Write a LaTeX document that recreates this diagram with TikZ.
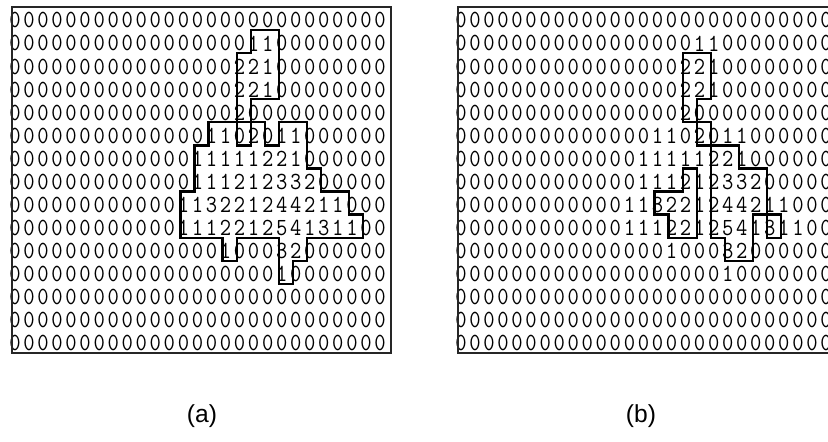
\documentclass[tikz,border=0pt]{standalone}
\usepackage{fontspec}
\setmainfont{Liberation Sans}
\usepackage{tikz}

% cluster counts, one list per row (27 columns, 15 rows)
\newcommand{\countrows}{%
  {0,0,0,0,0,0,0,0,0,0, 0,0,0,0,0,0,0,0,0,0, 0,0,0,0,0,0,0},
  {0,0,0,0,0,0,0,0,0,0, 0,0,0,0,0,0,0,1,1,0, 0,0,0,0,0,0,0},
  {0,0,0,0,0,0,0,0,0,0, 0,0,0,0,0,0,2,2,1,0, 0,0,0,0,0,0,0},
  {0,0,0,0,0,0,0,0,0,0, 0,0,0,0,0,0,2,2,1,0, 0,0,0,0,0,0,0},
  {0,0,0,0,0,0,0,0,0,0, 0,0,0,0,0,0,2,0,0,0, 0,0,0,0,0,0,0},
  {0,0,0,0,0,0,0,0,0,0, 0,0,0,0,1,1,0,2,0,1, 1,0,0,0,0,0,0},
  {0,0,0,0,0,0,0,0,0,0, 0,0,0,1,1,1,1,1,2,2, 1,0,0,0,0,0,0},
  {0,0,0,0,0,0,0,0,0,0, 0,0,0,1,1,1,2,1,2,3, 3,2,0,0,0,0,0},
  {0,0,0,0,0,0,0,0,0,0, 0,0,1,1,3,2,2,1,2,4, 4,2,1,1,0,0,0},
  {0,0,0,0,0,0,0,0,0,0, 0,0,1,1,1,2,2,1,2,5, 4,1,3,1,1,0,0},
  {0,0,0,0,0,0,0,0,0,0, 0,0,0,0,0,1,0,0,0,3, 2,0,0,0,0,0,0},
  {0,0,0,0,0,0,0,0,0,0, 0,0,0,0,0,0,0,0,0,1, 0,0,0,0,0,0,0},
  {0,0,0,0,0,0,0,0,0,0, 0,0,0,0,0,0,0,0,0,0, 0,0,0,0,0,0,0},
  {0,0,0,0,0,0,0,0,0,0, 0,0,0,0,0,0,0,0,0,0, 0,0,0,0,0,0,0},
  {0,0,0,0,0,0,0,0,0,0, 0,0,0,0,0,0,0,0,0,0, 0,0,0,0,0,0,0}}

\begin{document}
\begin{tikzpicture}[
    panel/.style={shift={(#1,-0.14cm)}, x=0.2808cm, y=-0.4614cm},
    digit/.style={font=\ttfamily\fontsize{12.5}{12.5}\selectfont, text=black, inner sep=0pt,
      yscale=1.12, transform shape},
    frame/.style={draw=black!85, line width=1pt},
    region/.style={draw=black, line width=1.3pt},
    caption/.style={font=\fontsize{14}{14}\selectfont}
]
\clip (0,0) rectangle (16.56,-8.84);

% both panels show the same counts
\foreach \p/\xo in {a/0.24cm, b/9.16cm} {
  \begin{scope}[panel=\xo]
    \foreach \rowlist [count=\r from 0] in \countrows {
      \foreach \d [count=\c from 0] in \rowlist {
        \node[digit] (\p-\r-\c) at (\c+0.21, \r+0.58) {\d};
      }
    }
    \draw[frame] (0,0) rectangle (27,15);
  \end{scope}
}

% (a) nonzero cells
\begin{scope}[panel=0.24cm]
  \draw[region] (17,1) -- (19,1) -- (19,4) -- (17,4) -- (17,5) -- (16,5) -- (16,2) -- (17,2) -- cycle;
  \draw[region] (14,5) -- (16,5) -- (16,6) -- (17,6) -- (17,5) -- (18,5) -- (18,6) -- (19,6)
    -- (19,5) -- (21,5) -- (21,7) -- (22,7) -- (22,8) -- (24,8) -- (24,9) -- (25,9) -- (25,10)
    -- (21,10) -- (21,11) -- (20,11) -- (20,12) -- (19,12) -- (19,10) -- (16,10) -- (16,11)
    -- (15,11) -- (15,10) -- (12,10) -- (12,8) -- (13,8) -- (13,6) -- (14,6) -- cycle;
\end{scope}

% (b) cells of 2 and more
\begin{scope}[panel=9.16cm]
  \draw[region] (16,2) -- (18,2) -- (18,4) -- (17,4) -- (17,5) -- (16,5) -- cycle;
  \draw[region] (17,5) rectangle (18,6);
  \draw[region] (18,6) -- (20,6) -- (20,7) -- (22,7) -- (22,9) -- (21,9) -- (21,11)
    -- (19,11) -- (19,10) -- (18,10) -- cycle;
  \draw[region] (16,7) -- (17,7) -- (17,10) -- (15,10) -- (15,9) -- (14,9) -- (14,8) -- (16,8) -- cycle;
  \draw[region] (22,9) rectangle (23,10);
\end{scope}

% captions
\node[caption] (capa) at (4.04,-8.32) {(a)};
\node[caption] (capb) at (12.82,-8.32) {(b)};

\end{tikzpicture}
\end{document}
